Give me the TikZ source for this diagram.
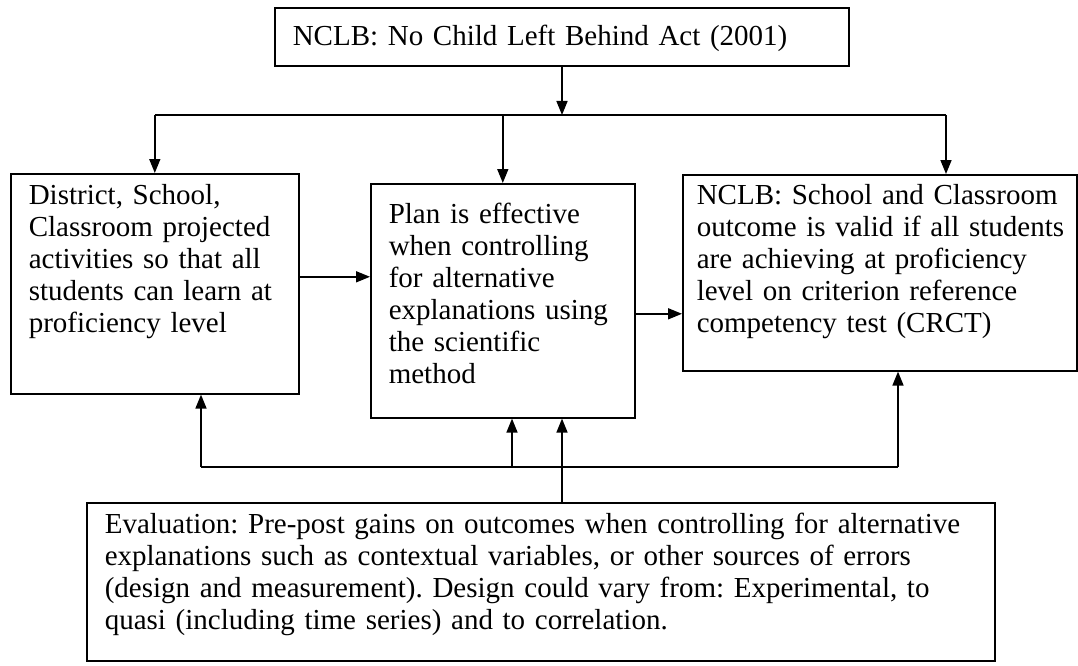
\documentclass[tikz,border=0pt]{standalone}
\usepackage{fontspec}
\setmainfont{Liberation Serif}
\usetikzlibrary{positioning,arrows.meta}

\begin{document}
\frenchspacing
\begin{tikzpicture}[x=1pt, y=-1pt, line width=1.6pt, >={Triangle[length=14pt,width=11pt]},
  box/.style={draw, rectangle, anchor=north west, inner xsep=18pt, inner ysep=0pt, align=left,
    font=\fontsize{29}{32}\selectfont}]
  \useasboundingbox (0,0) rectangle (1078,666);
  \def\ysplit{115} \def\yfb{467}
  \node[box, text width=538pt, text height=38pt, text depth=20pt] (law) at (274,7)
    {NCLB: No Child Left Behind Act (2001)};
  \node[box, text width=252pt, text height=31pt, text depth=189pt] (district) at (10,173)
    {District, School,\\ Classroom projected\\ activities so that all\\ students can learn at\\ proficiency level};
  \node[box, text width=228pt, text height=40pt, text depth=194pt] (plan) at (370,183)
    {Plan is effective\\ when controlling\\ for alternative\\ explanations using\\ the scientific\\ method};
  \node[box, inner xsep=9pt, text width=376pt, text height=30pt, text depth=166pt,
    execute at begin node={\leftskip=5pt}] (outcome) at (682,174)
    {NCLB: School and Classroom\\ outcome is valid if all students\\ are achieving at proficiency\\ level on criterion reference\\ competency test (CRCT)};
  \node[box, text width=872pt, text height=31pt, text depth=127pt] (evaluation) at (86,502)
    {Evaluation: Pre-post gains on outcomes when controlling for alternative\\ explanations such as contextual variables, or other sources of errors\\ (design and measurement). Design could vary from: Experimental, to\\ quasi (including time series) and to correlation.};
  \coordinate (split) at (562,\ysplit);
  \coordinate (rdrop) at (946,\ysplit);
  \coordinate (fbl) at (201,\yfb);
  \coordinate (fbm) at (512,\yfb);
  \coordinate (fbr) at (898,\yfb);
  % top down to the three boxes
  \draw[->] (law.south -| split) -- (split);
  \draw (split -| district.north) -- (rdrop);
  \draw[->] (split -| district.north) -- (district.north);
  \draw[->] (split -| plan.north) -- (plan.north);
  \draw[->] (rdrop) -- (rdrop |- outcome.north);
  % across
  \draw[->] ([yshift=7pt]district.east) -- ([yshift=7pt]district.east -| plan.west);
  \draw[->] ([yshift=-13pt]plan.east) -- ([yshift=-13pt]plan.east -| outcome.west);
  % evaluation feeds back
  \draw (fbl) -- (fbr);
  \draw[->] (fbl) -- (fbl |- district.south);
  \draw[->] (fbm) -- (fbm |- plan.south);
  \draw[->] (fbr) -- (fbr |- outcome.south);
  \draw[->] (evaluation.north -| split) -- (split |- plan.south);
\end{tikzpicture}
\end{document}
